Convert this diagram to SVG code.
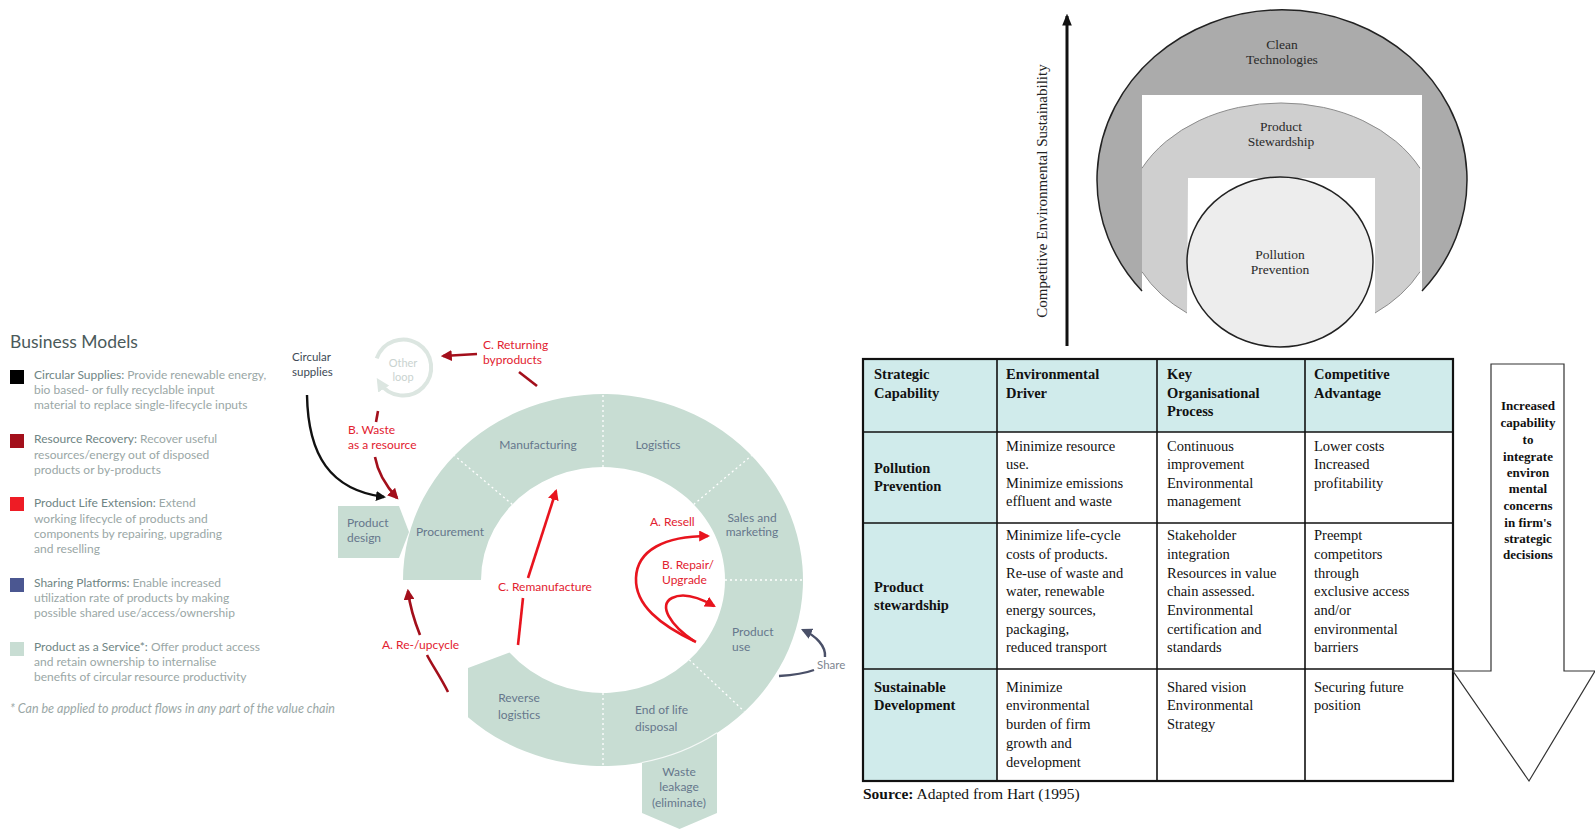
<svg xmlns="http://www.w3.org/2000/svg" width="1595" height="831" viewBox="0 0 1595 831">
<style>
.lg{font-family:Lato,"Open Sans",sans-serif;font-size:12px;fill:#9aa7a6}
.lgh{fill:#6f8584}
.ring{fill:#c8ddd3}
.rl{font-family:Lato,"Open Sans",sans-serif;font-size:12px;fill:#66778c}
.red{font-family:Lato,"Open Sans",sans-serif;font-size:12px;fill:#e2212f}
.sep{stroke:#ffffff;stroke-width:1.3;stroke-dasharray:2 3;fill:none}
.dred{stroke:#a30f1b;stroke-width:2.6;fill:none}
.bred{stroke:#e8141e;stroke-width:2.6;fill:none}
.tx{font-family:"Liberation Serif","Times New Roman",serif;font-size:14.5px;fill:#111}
.th{font-weight:bold}
.cap{font-family:"Liberation Serif","Times New Roman",serif;font-size:13.5px;fill:#2a2a2a;text-anchor:middle}
.ab{font-family:"Liberation Serif","Times New Roman",serif;font-size:13px;font-weight:bold;fill:#111;text-anchor:middle}
</style>
<defs>
<marker id="aBlack" viewBox="0 0 10 10" refX="8" refY="5" markerWidth="10" markerHeight="10" markerUnits="userSpaceOnUse" orient="auto"><path d="M0,0 L10,5 L0,10 z" fill="#111"/></marker>
<marker id="aDred" viewBox="0 0 10 10" refX="8" refY="5" markerWidth="11" markerHeight="11" markerUnits="userSpaceOnUse" orient="auto"><path d="M0,0 L10,5 L0,10 z" fill="#a30f1b"/></marker>
<marker id="aBred" viewBox="0 0 10 10" refX="8" refY="5" markerWidth="11" markerHeight="11" markerUnits="userSpaceOnUse" orient="auto"><path d="M0,0 L10,5 L0,10 z" fill="#e8141e"/></marker>
<marker id="aSlate" viewBox="0 0 10 10" refX="8" refY="5" markerWidth="11" markerHeight="11" markerUnits="userSpaceOnUse" orient="auto"><path d="M0,0 L10,5 L0,10 z" fill="#4a5068"/></marker>
<marker id="aGray" viewBox="0 0 10 10" refX="6" refY="5" markerWidth="13" markerHeight="13" markerUnits="userSpaceOnUse" orient="auto"><path d="M0,0 L10,5 L0,10 z" fill="#dce6e1"/></marker>
<marker id="aBig" viewBox="0 0 10 10" refX="8" refY="5" markerWidth="12" markerHeight="12" markerUnits="userSpaceOnUse" orient="auto"><path d="M0,1 L10,5 L0,9 z" fill="#111"/></marker>
</defs>
<rect width="1595" height="831" fill="#ffffff"/>

<!-- Legend -->
<g id="legend">
<text x="10" y="348" style="font-family:Lato,'Open Sans',sans-serif;font-size:17.5px;fill:#4b5a5a">Business Models</text>
<rect x="10" y="370" width="14" height="14" fill="#000"/>
<text class="lg" x="34" y="379"><tspan class="lgh">Circular Supplies:</tspan> Provide renewable energy,</text>
<text class="lg" x="34" y="394">bio based- or fully recyclable input</text>
<text class="lg" x="34" y="409">material to replace single-lifecycle inputs</text>
<rect x="10" y="434" width="14" height="14" fill="#a30f1b"/>
<text class="lg" x="34" y="443"><tspan class="lgh">Resource Recovery:</tspan> Recover useful</text>
<text class="lg" x="34" y="458.5">resources/energy out of disposed</text>
<text class="lg" x="34" y="474">products or by-products</text>
<rect x="10" y="497" width="14" height="14" fill="#ee1c25"/>
<text class="lg" x="34" y="507"><tspan class="lgh">Product Life Extension:</tspan> Extend</text>
<text class="lg" x="34" y="523">working lifecycle of products and</text>
<text class="lg" x="34" y="538">components by repairing, upgrading</text>
<text class="lg" x="34" y="553">and reselling</text>
<rect x="10" y="578" width="14" height="14" fill="#4b5791"/>
<text class="lg" x="34" y="587"><tspan class="lgh">Sharing Platforms:</tspan> Enable increased</text>
<text class="lg" x="34" y="602">utilization rate of products by making</text>
<text class="lg" x="34" y="617">possible shared use/access/ownership</text>
<rect x="10" y="642" width="14" height="14" fill="#c8ddd3"/>
<text class="lg" x="34" y="651"><tspan class="lgh">Product as a Service*:</tspan> Offer product access</text>
<text class="lg" x="34" y="666">and retain ownership to internalise</text>
<text class="lg" x="34" y="681">benefits of circular resource productivity</text>
<text class="lg" x="10" y="713" style="font-style:italic;font-size:12.5px">* Can be applied to product flows in any part of the value chain</text>
</g>

<!-- Value chain ring -->
<g id="ring">
<path class="ring" d="M 403 580 A 200 186 0 1 1 468 717.3 L 468 668 L 509.5 652.6 A 122 113 0 1 0 481 580 Z"/>
<polygon class="ring" points="642,750 717,725 717,813 679.5,829 642,813"/>
<path d="M 642 762.5 A 200 186 0 0 0 717 732.8" stroke="#ffffff" stroke-width="1.2" fill="none" opacity="0.8"/>
<line class="sep" x1="512.3" y1="504.4" x2="454.4" y2="455.5"/>
<line class="sep" x1="603" y1="467" x2="603" y2="394"/>
<line class="sep" x1="693.7" y1="504.4" x2="751.6" y2="455.5"/>
<line class="sep" x1="725" y1="580" x2="803" y2="580"/>
<line class="sep" x1="689.3" y1="659.9" x2="744.4" y2="711.5"/>
<line class="sep" x1="603" y1="693" x2="603" y2="766"/>
</g>
<g id="product-design">
<polygon class="ring" points="338,506 399,506 409,532 399,558 338,558"/>
<text class="rl" x="347" y="527">Product</text>
<text class="rl" x="347" y="542">design</text>
</g>
<g id="procurement"><text class="rl" x="450" y="536" text-anchor="middle">Procurement</text></g>
<g id="manufacturing"><text class="rl" x="538" y="449" text-anchor="middle">Manufacturing</text></g>
<g id="logistics"><text class="rl" x="658" y="449" text-anchor="middle">Logistics</text></g>
<g id="sales"><text class="rl" x="752" y="522" text-anchor="middle">Sales and</text><text class="rl" x="752" y="536" text-anchor="middle">marketing</text></g>
<g id="product-use"><text class="rl" x="732" y="636">Product</text><text class="rl" x="732" y="651">use</text></g>
<g id="end-of-life"><text class="rl" x="635" y="714">End of life</text><text class="rl" x="635" y="731">disposal</text></g>
<g id="reverse-logistics"><text class="rl" x="519" y="702" text-anchor="middle">Reverse</text><text class="rl" x="519" y="719" text-anchor="middle">logistics</text></g>
<g id="waste-leakage"><text class="rl" x="679" y="776" text-anchor="middle">Waste</text><text class="rl" x="679" y="791" text-anchor="middle">leakage</text><text class="rl" x="679" y="807" text-anchor="middle">(eliminate)</text></g>
<g id="other-loop">
<path d="M 376.7 358.4 A 28 28 0 1 1 379.5 382.5" stroke="#dce6e1" stroke-width="4" fill="none" marker-end="url(#aGray)"/>
<text x="403" y="367" text-anchor="middle" style="font-family:Lato,'Open Sans',sans-serif;font-size:11px;fill:#c9d3d0">Other</text>
<text x="403" y="381" text-anchor="middle" style="font-family:Lato,'Open Sans',sans-serif;font-size:11px;fill:#c9d3d0">loop</text>
</g>
<g id="circular-supplies">
<text x="292" y="361" style="font-family:Lato,'Open Sans',sans-serif;font-size:11.5px;fill:#3d4a55">Circular</text>
<text x="292" y="376" style="font-family:Lato,'Open Sans',sans-serif;font-size:11.5px;fill:#3d4a55">supplies</text>
</g>
<g id="labels-red">
<text class="red" x="483" y="349">C. Returning</text>
<text class="red" x="483" y="364">byproducts</text>
<text class="red" x="348" y="434">B. Waste</text>
<text class="red" x="348" y="449">as a resource</text>
<text class="red" x="498" y="591">C. Remanufacture</text>
<text class="red" x="382" y="649">A. Re-/upcycle</text>
<text class="red" x="650" y="526">A. Resell</text>
<text class="red" x="662" y="569">B. Repair/</text>
<text class="red" x="662" y="584">Upgrade</text>
<text x="817" y="669" style="font-family:Lato,'Open Sans',sans-serif;font-size:11.5px;fill:#7d8590">Share</text>
</g>

<!-- Connectors -->
<g id="connectors">
<path d="M 307 395 C 308 455 330 490 384 497" stroke="#111" stroke-width="2.4" fill="none" marker-end="url(#aBlack)"/>
<path class="dred" d="M 378 411 L 376 422"/>
<path class="dred" d="M 375 457 C 378 474 386 486 397 498" marker-end="url(#aDred)"/>
<path class="dred" d="M 537 386 L 519 372"/>
<path class="dred" d="M 477 354 L 443 356" marker-end="url(#aDred)"/>
<path class="bred" d="M 518 645 L 523 598"/>
<path class="bred" d="M 528 578 L 556 491" marker-end="url(#aBred)"/>
<path class="dred" d="M 448 692 C 440 676 432 665 427 655"/>
<path class="dred" d="M 420 635 C 414 620 410 607 408 591" marker-end="url(#aDred)"/>
<path class="bred" d="M 696 642 C 660 625 635 605 636 578 C 637 550 665 536 708 536" marker-end="url(#aBred)"/>
<path class="bred" d="M 694 641 C 670 625 658 605 672 598 C 684 592 700 598 714 606" marker-end="url(#aBred)"/>
<path d="M 779 676 C 795 675 806 673 814 670" stroke="#4a5068" stroke-width="2.4" fill="none"/>
<path d="M 825 657 C 826 646 816 636 803 630" stroke="#4a5068" stroke-width="2.4" fill="none" marker-end="url(#aSlate)"/>
</g>

<!-- Concentric sustainability diagram -->
<g id="axis">
<line x1="1067" y1="346" x2="1067" y2="16" stroke="#111" stroke-width="3" marker-end="url(#aBig)"/>
<text x="0" y="0" transform="translate(1047,191) rotate(-90)" text-anchor="middle" style="font-family:'Liberation Serif','Times New Roman',serif;font-size:15px;fill:#222">Competitive Environmental Sustainability</text>
</g>
<g id="clean-technologies">
<path d="M 1142 291 A 185 170 0 1 1 1422 291 L 1422 95 L 1142 95 Z" fill="#ababab"/>
<path d="M 1142 291 A 185 170 0 1 1 1422 291" fill="none" stroke="#222" stroke-width="1.5"/>
<text class="cap" x="1282" y="49">Clean</text>
<text class="cap" x="1282" y="64">Technologies</text>
</g>
<g id="product-stewardship">
<path d="M 1187 313 A 155 117 0 0 1 1142 271.8 L 1142 168.2 A 155 117 0 0 1 1420 168.2 L 1420 271.8 A 155 117 0 0 1 1375 313 L 1375 178 L 1188 178 Z" fill="#cfcfcf"/>
<path d="M 1187 313 A 155 117 0 0 1 1142 271.8 M 1142 168.2 A 155 117 0 0 1 1420 168.2 M 1420 271.8 A 155 117 0 0 1 1375 313" fill="none" stroke="#8c8c8c" stroke-width="1"/>
<text class="cap" x="1281" y="131">Product</text>
<text class="cap" x="1281" y="146">Stewardship</text>
</g>
<g id="pollution-prevention">
<ellipse cx="1280" cy="262" rx="93" ry="85" fill="#ededed" stroke="#222" stroke-width="1.5"/>
<text class="cap" x="1280" y="259">Pollution</text>
<text class="cap" x="1280" y="274">Prevention</text>
</g>

<!-- Table -->
<g id="table">
<rect x="863" y="359" width="590" height="73" fill="#d0ebeb"/>
<rect x="863" y="432" width="134" height="349" fill="#d0ebeb"/>
<g stroke="#111" stroke-width="1.6">
<line x1="997" y1="359" x2="997" y2="781"/>
<line x1="1157" y1="359" x2="1157" y2="781"/>
<line x1="1305" y1="359" x2="1305" y2="781"/>
<line x1="863" y1="432" x2="1453" y2="432"/>
<line x1="863" y1="523" x2="1453" y2="523"/>
<line x1="863" y1="669" x2="1453" y2="669"/>
</g>
<rect x="863" y="359" width="590" height="422" fill="none" stroke="#111" stroke-width="2.2"/>
<g class="tx th">
<text x="874" y="379">Strategic</text><text x="874" y="398">Capability</text>
<text x="1006" y="379">Environmental</text><text x="1006" y="398">Driver</text>
<text x="1167" y="379">Key</text><text x="1167" y="398">Organisational</text><text x="1167" y="416">Process</text>
<text x="1314" y="379">Competitive</text><text x="1314" y="398">Advantage</text>
<text x="874" y="473">Pollution</text><text x="874" y="491">Prevention</text>
<text x="874" y="592">Product</text><text x="874" y="610">stewardship</text>
<text x="874" y="692">Sustainable</text><text x="874" y="710">Development</text>
</g>
<g class="tx">
<text x="1006" y="451">Minimize resource</text><text x="1006" y="469">use.</text><text x="1006" y="488">Minimize emissions</text><text x="1006" y="506">effluent and waste</text>
<text x="1167" y="451">Continuous</text><text x="1167" y="469">improvement</text><text x="1167" y="488">Environmental</text><text x="1167" y="506">management</text>
<text x="1314" y="451">Lower costs</text><text x="1314" y="469">Increased</text><text x="1314" y="488">profitability</text>
<text x="1006" y="540">Minimize life-cycle</text><text x="1006" y="559">costs of products.</text><text x="1006" y="578">Re-use of waste and</text><text x="1006" y="596">water, renewable</text><text x="1006" y="615">energy sources,</text><text x="1006" y="634">packaging,</text><text x="1006" y="652">reduced transport</text>
<text x="1167" y="540">Stakeholder</text><text x="1167" y="559">integration</text><text x="1167" y="578">Resources in value</text><text x="1167" y="596">chain assessed.</text><text x="1167" y="615">Environmental</text><text x="1167" y="634">certification and</text><text x="1167" y="652">standards</text>
<text x="1314" y="540">Preempt</text><text x="1314" y="559">competitors</text><text x="1314" y="578">through</text><text x="1314" y="596">exclusive access</text><text x="1314" y="615">and/or</text><text x="1314" y="634">environmental</text><text x="1314" y="652">barriers</text>
<text x="1006" y="692">Minimize</text><text x="1006" y="710">environmental</text><text x="1006" y="729">burden of firm</text><text x="1006" y="748">growth and</text><text x="1006" y="767">development</text>
<text x="1167" y="692">Shared vision</text><text x="1167" y="710">Environmental</text><text x="1167" y="729">Strategy</text>
<text x="1314" y="692">Securing future</text><text x="1314" y="710">position</text>
</g>
<text class="tx" x="863" y="799" style="font-size:15.5px"><tspan font-weight="bold">Source:</tspan> Adapted from Hart (1995)</text>
</g>

<g id="capability-arrow">
<path d="M 1491 364 L 1564 364 L 1564 671 L 1595 671 L 1529 781 L 1453 671 L 1491 671 Z" fill="#ffffff" stroke="#333" stroke-width="1.2"/>
<text class="ab" x="1528" y="410">Increased</text>
<text class="ab" x="1528" y="427">capability</text>
<text class="ab" x="1528" y="444">to</text>
<text class="ab" x="1528" y="461">integrate</text>
<text class="ab" x="1528" y="477">environ</text>
<text class="ab" x="1528" y="493">mental</text>
<text class="ab" x="1528" y="510">concerns</text>
<text class="ab" x="1528" y="527">in firm's</text>
<text class="ab" x="1528" y="543">strategic</text>
<text class="ab" x="1528" y="559">decisions</text>
</g>
</svg>
